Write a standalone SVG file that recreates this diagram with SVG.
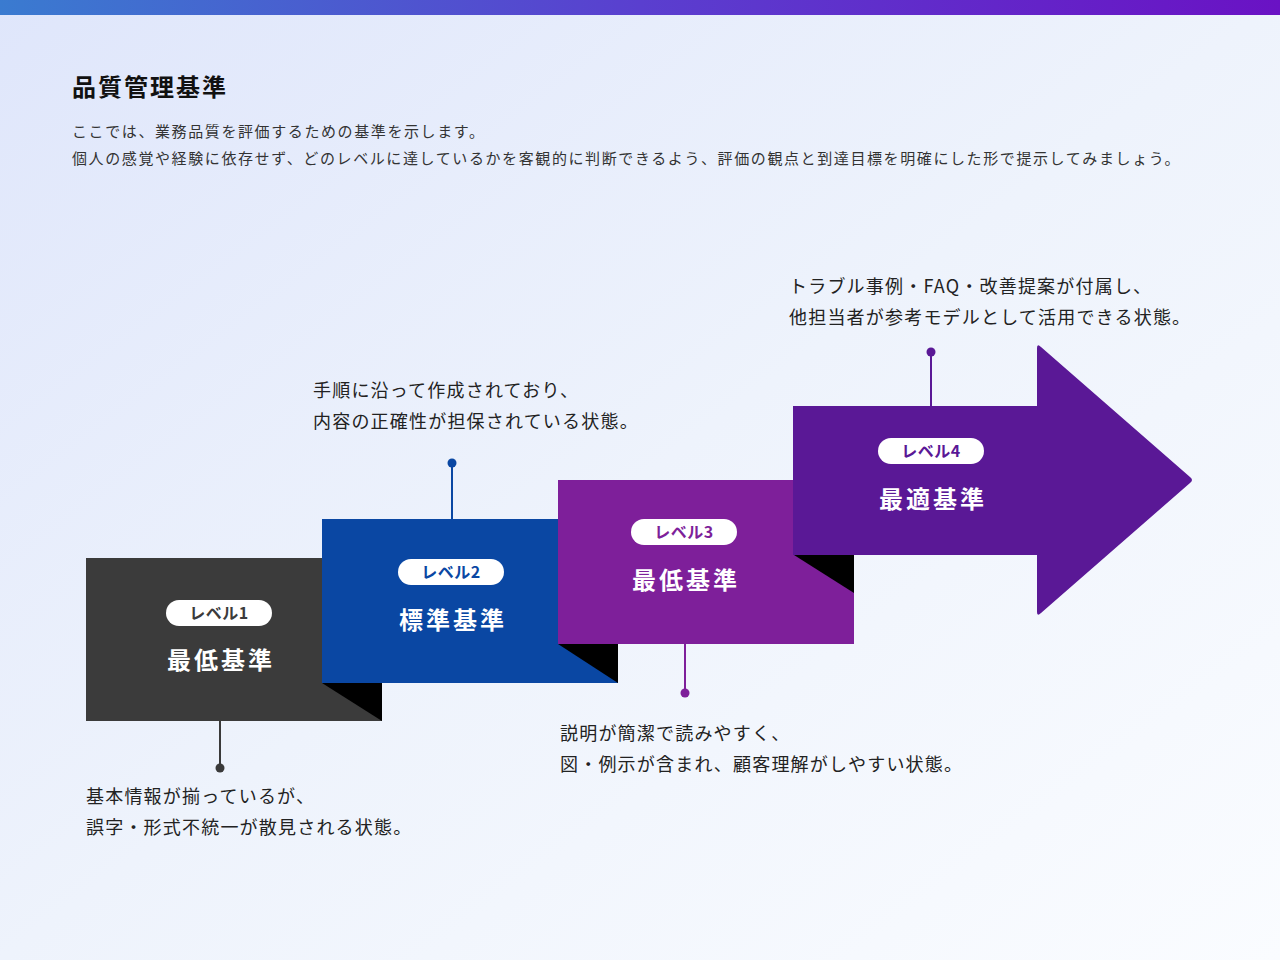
<svg xmlns="http://www.w3.org/2000/svg" width="1280" height="960" viewBox="0 0 1280 960">
<defs>
<linearGradient id="bg" x1="0" y1="0" x2="1" y2="1"><stop offset="0" stop-color="#dfe6fb"/><stop offset="0.5" stop-color="#eef3fc"/><stop offset="1" stop-color="#fafcff"/></linearGradient>
<linearGradient id="bar" x1="0" y1="0" x2="1" y2="0"><stop offset="0" stop-color="#3a7bd0"/><stop offset="0.5" stop-color="#5a3fcf"/><stop offset="1" stop-color="#6a12c4"/></linearGradient>
<style>
text{font-family:"Noto Sans CJK JP","Noto Sans",sans-serif}
.desc{font-size:15px;fill:#333;letter-spacing:1.6px}
.cap{font-size:18px;fill:#222;letter-spacing:1.2px}
.pill{fill:#fff}
.pt{font-size:16px;font-weight:700;text-anchor:middle;letter-spacing:0.5px}
.tt{font-size:24px;font-weight:700;fill:#fff;text-anchor:middle;letter-spacing:3px}
</style>
</defs>
<rect width="1280" height="960" fill="url(#bg)"/>
<rect width="1280" height="15" fill="url(#bar)"/>
<text x="72" y="96" font-size="24" font-weight="700" fill="#111" letter-spacing="2">品質管理基準</text>
<text class="desc" x="72" y="137">ここでは、業務品質を評価するための基準を示します。</text>
<text class="desc" x="72" y="164">個人の感覚や経験に依存せず、どのレベルに達しているかを客観的に判断できるよう、評価の観点と到達目標を明確にした形で提示してみましょう。</text>
<g id="connectors">
<line x1="220" y1="721" x2="220" y2="768" stroke="#3a3a3a" stroke-width="2"/><circle cx="220" cy="768" r="4.5" fill="#3a3a3a"/>
<line x1="452" y1="519" x2="452" y2="463" stroke="#0a47a3" stroke-width="2"/><circle cx="452" cy="463" r="4.5" fill="#0a47a3"/>
<line x1="685" y1="644" x2="685" y2="693" stroke="#7e1f9a" stroke-width="2"/><circle cx="685" cy="693" r="4.5" fill="#7e1f9a"/>
<line x1="931" y1="406" x2="931" y2="352" stroke="#5a1896" stroke-width="2"/><circle cx="931" cy="352" r="4.5" fill="#5a1896"/>
</g>
<g id="level1">
<rect x="86" y="558" width="296" height="163" fill="#3b3b3b"/>
<polygon points="322,683 382,683 382,721" fill="#000"/>
<rect class="pill" x="166" y="600" width="106" height="26" rx="13"/>
<text class="pt" x="219" y="619" fill="#3b3b3b">レベル1</text>
<text class="tt" x="221" y="669">最低基準</text>
<text class="cap" x="86" y="803">基本情報が揃っているが、</text>
<text class="cap" x="86" y="834">誤字・形式不統一が散見される状態。</text>
</g>
<g id="level2">
<rect x="322" y="519" width="296" height="164" fill="#0a47a3"/>
<polygon points="558,644 618,644 618,683" fill="#000"/>
<rect class="pill" x="398" y="559" width="106" height="26" rx="13"/>
<text class="pt" x="451" y="578" fill="#0a47a3">レベル2</text>
<text class="tt" x="453" y="629">標準基準</text>
<text class="cap" x="313" y="397">手順に沿って作成されており、</text>
<text class="cap" x="313" y="428">内容の正確性が担保されている状態。</text>
</g>
<g id="level3">
<rect x="558" y="480" width="296" height="164" fill="#7e1f9a"/>
<polygon points="794,555 854,555 854,593" fill="#000"/>
<rect class="pill" x="631" y="519" width="106" height="26" rx="13"/>
<text class="pt" x="684" y="538" fill="#7e1f9a">レベル3</text>
<text class="tt" x="686" y="589">最低基準</text>
<text class="cap" x="560" y="740">説明が簡潔で読みやすく、</text>
<text class="cap" x="560" y="771">図・例示が含まれ、顧客理解がしやすい状態。</text>
</g>
<g id="level4">
<path d="M793,406 H1037 V348 Q1037,343 1041,347 L1190,477 Q1194,480 1190,483 L1041,613 Q1037,617 1037,612 V555 H793 Z" fill="#5a1896"/>
<rect class="pill" x="878" y="438" width="106" height="26" rx="13"/>
<text class="pt" x="931" y="457" fill="#5a1896">レベル4</text>
<text class="tt" x="933" y="508">最適基準</text>
<text class="cap" x="789" y="293">トラブル事例・FAQ・改善提案が付属し、</text>
<text class="cap" x="789" y="324">他担当者が参考モデルとして活用できる状態。</text>
</g>
</svg>
